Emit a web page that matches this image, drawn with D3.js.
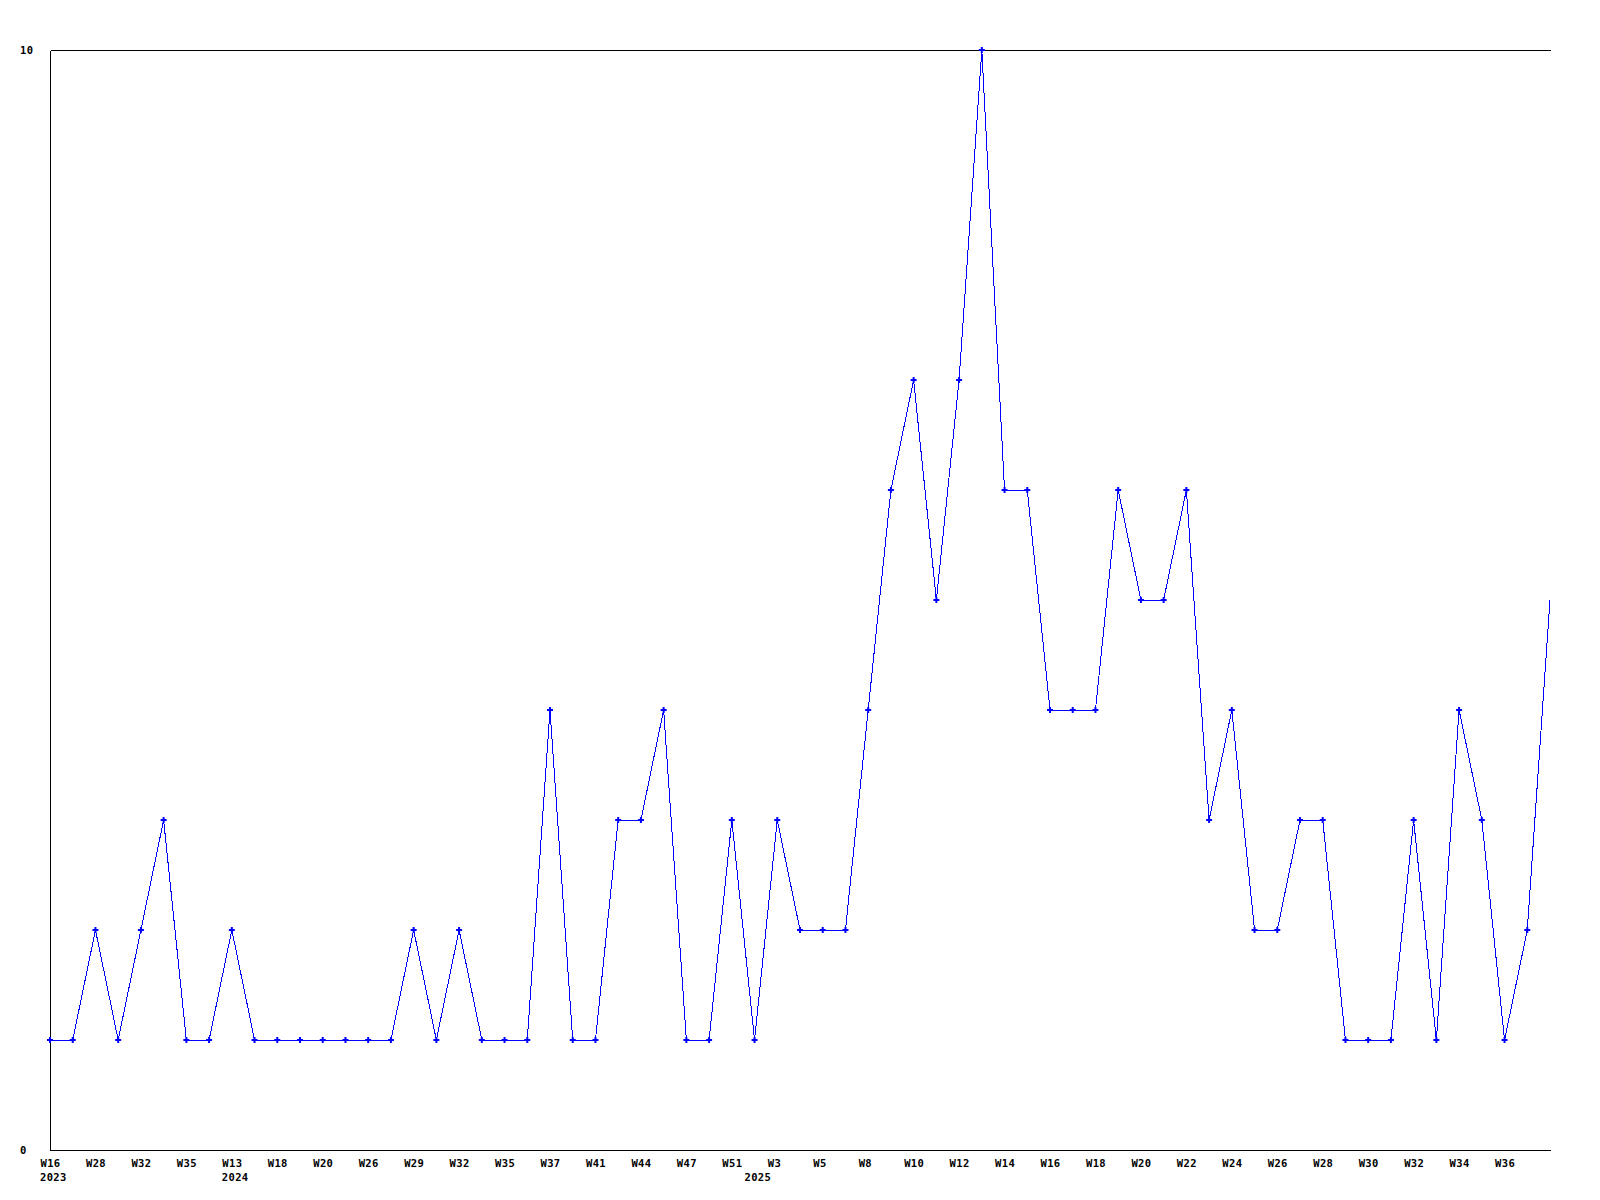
<!DOCTYPE html>
<html>
<head>
<meta charset="utf-8">
<script src="https://cdn.jsdelivr.net/npm/d3@7"></script>
<style>
  body { margin: 0; background: #fff; }
  svg text { font-family: "DejaVu Sans Mono", "Liberation Mono", monospace; font-weight: bold; font-size: 10.5px; letter-spacing: 0.35px; fill: #000; }
</style>
</head>
<body>
<script>
// weekly counts, one per point
var values = [1, 1, 2, 1, 2, 3, 1, 1, 2, 1,
              1, 1, 1, 1, 1, 1, 2, 1, 2, 1,
              1, 1, 4, 1, 1, 3, 3, 4, 1, 1,
              3, 1, 3, 2, 2, 2, 4, 6, 7, 5,
              7, 10, 6, 6, 4, 4, 4, 6, 5, 5,
              6, 3, 4, 2, 2, 3, 3, 1, 1, 1,
              3, 1, 4, 3, 1, 2, 5];

// labels shown under every second point
var weekLabels = ["W16", "W28", "W32", "W35", "W13", "W18", "W20", "W26", "W29", "W32", "W35",
                  "W37", "W41", "W44", "W47", "W51", "W3", "W5", "W8", "W10", "W12", "W14",
                  "W16", "W18", "W20", "W22", "W24", "W26", "W28", "W30", "W32", "W34", "W36"];

// year shown under the first point of each year (point index)
var yearIndex = [0, 8, 31];
var yearLabels = ["2023", "2024", "2025"];

var yTicks = [0, 10];

var margin = {top: 50, right: 50, bottom: 50, left: 50},
    width = 1600 - margin.left - margin.right,
    height = 1200 - margin.top - margin.bottom;

var svg = d3.select("body").append("svg")
    .attr("width", 1600)
    .attr("height", 1200)
  .append("g")
    .attr("transform", "translate(" + margin.left + "," + margin.top + ")");

var x = d3.scaleLinear().domain([0, values.length - 1]).range([0, width]);
var y = d3.scaleLinear().domain([0, 10]).range([height, 0]);

// frame: top line, left axis, bottom axis
svg.append("g")
    .call(d3.axisTop(x).tickValues([]).tickSizeOuter(0))
    .select(".domain").attr("stroke", "#000").attr("shape-rendering", "crispEdges");

var yAxis = svg.append("g")
    .call(d3.axisLeft(y).tickValues(yTicks).tickSize(0).tickSizeOuter(0).tickFormat(d3.format("d")));
yAxis.attr("font-size", null).attr("font-family", null);
yAxis.select(".domain").attr("stroke", "#000").attr("shape-rendering", "crispEdges");
yAxis.selectAll("text")
    .attr("text-anchor", "start")
    .attr("x", -30)
    .attr("dy", "0.36em");

var tickIdx = weekLabels.map(function(d, i) { return i * 2; });
var xAxis = svg.append("g")
    .attr("transform", "translate(0," + height + ")")
    .call(d3.axisBottom(x).tickValues(tickIdx).tickSize(0).tickSizeOuter(0)
          .tickFormat(function(d) { return weekLabels[d / 2]; }));
xAxis.attr("font-size", null).attr("font-family", null);
xAxis.select(".domain").attr("stroke", "#000").attr("shape-rendering", "crispEdges");
xAxis.selectAll(".tick text")
    .attr("text-anchor", "start")
    .attr("x", -10)
    .attr("y", 16.5)
    .attr("dy", null);

// year labels under the first point of each year
xAxis.selectAll(".year")
    .data(yearIndex)
  .enter().append("text")
    .attr("class", "year")
    .attr("text-anchor", "start")
    .attr("x", function(d) { return x(d) - 10; })
    .attr("y", 31)
    .text(function(d, i) { return yearLabels[i]; });

// series line
var line = d3.line()
    .x(function(d, i) { return x(i); })
    .y(function(d) { return y(d); });

svg.append("path")
    .datum(values)
    .attr("fill", "none")
    .attr("stroke", "#0000ff")
    .attr("stroke-width", 1)
    .attr("shape-rendering", "crispEdges")
    .attr("d", line);

// point markers (the last one sits on the frame edge and is not drawn)
svg.append("g").selectAll("path")
    .data(values.slice(0, values.length - 1))
  .enter().append("path")
    .attr("transform", function(d, i) { return "translate(" + x(i) + "," + y(d) + ")"; })
    .attr("d", d3.symbol().type(d3.symbolCross).size(20))
    .attr("fill", "#0000ff");
</script>
</body>
</html>
